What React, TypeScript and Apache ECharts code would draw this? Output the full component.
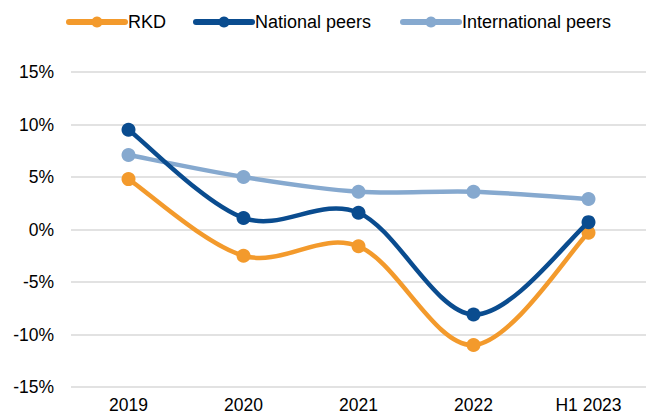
import React, { useEffect, useRef } from "react";
import * as echarts from "echarts";

const categories = ["2019", "2020", "2021", "2022", "H1 2023"];
const seriesNames = ["RKD", "National peers", "International peers"];
const rkd = [4.8, -2.5, -1.6, -11.0, -0.3];
const nationalPeers = [9.5, 1.1, 1.6, -8.1, 0.7];
const internationalPeers = [7.1, 5.0, 3.6, 3.6, 2.9];
const yTicks = { min: -15, max: 15, interval: 5 };

export default function App() {
  const ref = useRef<HTMLDivElement>(null);
  useEffect(() => {
    const chart = echarts.init(ref.current!, null, { renderer: "svg" });
    const font = "'Liberation Sans', Arial, sans-serif";
    const colors = ["#F39A2C", "#0A4C8F", "#86A9CF"];

    // markers (and legend entries) drawn by line series; curves by custom series
    const markers = (name: string, data: number[], color: string, z: number) => ({
      name,
      type: "line",
      data,
      symbol: "circle",
      symbolSize: 14,
      z,
      lineStyle: { color, width: 4, opacity: 0 },
      itemStyle: { color },
    });

    const curve = (key: string, data: number[], color: string, z: number) => ({
      name: key,
      type: "custom",
      coordinateSystem: "cartesian2d",
      z,
      silent: true,
      data: data.map((v, i) => [i, v]),
      encode: { x: 0, y: 1 },
      renderItem: (params: any, api: any) => {
        const i = params.dataIndex;
        const n = data.length;
        if (i >= n - 1) return null;
        const p = (k: number) => {
          const c = Math.max(0, Math.min(n - 1, k));
          return api.coord([c, data[c]]);
        };
        const p0 = p(i - 1), p1 = p(i), p2 = p(i + 1), p3 = p(i + 2);
        const t = 1 / 6;
        return {
          type: "bezierCurve",
          shape: {
            x1: p1[0], y1: p1[1], x2: p2[0], y2: p2[1],
            cpx1: p1[0] + (p2[0] - p0[0]) * t,
            cpy1: p1[1] + (p2[1] - p0[1]) * t,
            cpx2: p2[0] - (p3[0] - p1[0]) * t,
            cpy2: p2[1] - (p3[1] - p1[1]) * t,
          },
          style: { stroke: color, lineWidth: 4.5, fill: "none", lineCap: "round" },
        };
      },
    });

    const legendLefts = [66, 193, 400];
    chart.setOption({
      animation: false,
      backgroundColor: "#ffffff",
      legend: seriesNames.map((n, i) => ({
        left: legendLefts[i],
        top: 13,
        padding: 0,
        itemWidth: 56,
        itemHeight: 14,
        itemStyle: { borderWidth: 0 },
        lineStyle: { width: 6, color: colors[i], opacity: 1, cap: "round" },
        textStyle: { fontFamily: font, fontSize: 18, color: "#000", padding: [0, 0, 0, -2] },
        data: [n],
      })),
      grid: { left: 71, right: 0, top: 72, bottom: 30 },
      xAxis: {
        type: "category",
        data: categories,
        axisLine: { show: false },
        axisTick: { show: false },
        axisLabel: { fontFamily: font, fontSize: 17.5, color: "#000", margin: 9 },
      },
      yAxis: {
        type: "value",
        min: yTicks.min,
        max: yTicks.max,
        interval: yTicks.interval,
        axisLabel: { fontFamily: font, fontSize: 17.5, color: "#000", margin: 17, formatter: "{value}%" },
        splitLine: { lineStyle: { color: "#d9d9d9", width: 1.5 } },
        axisLine: { show: false },
        axisTick: { show: false },
      },
      series: [
        curve("_intlCurve", internationalPeers, colors[2], 2),
        markers(seriesNames[2], internationalPeers, colors[2], 3),
        curve("_rkdCurve", rkd, colors[0], 4),
        markers(seriesNames[0], rkd, colors[0], 5),
        curve("_natCurve", nationalPeers, colors[1], 6),
        markers(seriesNames[1], nationalPeers, colors[1], 7),
      ],
    });
    return () => chart.dispose();
  }, []);
  return <div ref={ref} style={{ width: 646, height: 417, position: "absolute", left: 0, top: 0 }} />;
}
